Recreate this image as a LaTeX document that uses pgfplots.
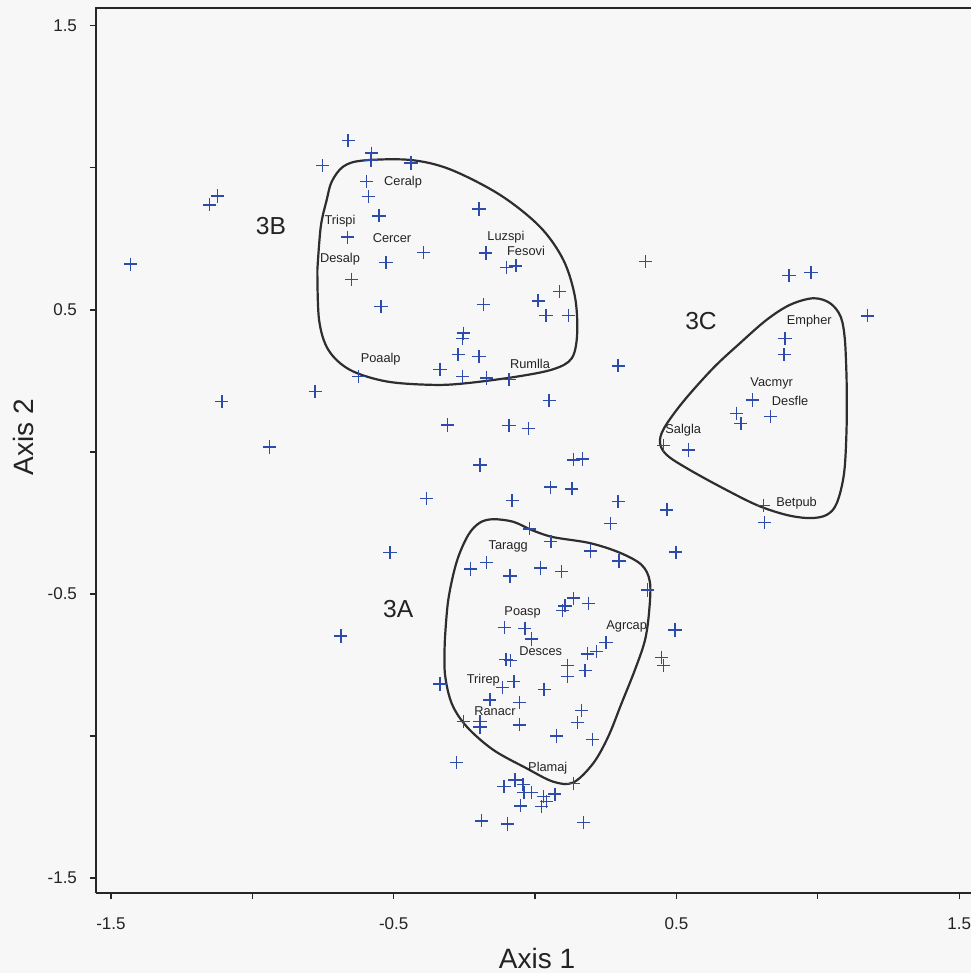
\documentclass[border=0pt]{standalone}
\usepackage{fontspec}
\setmainfont{Liberation Sans}
\usepackage{pgfplots}
\pgfplotsset{compat=1.18}
\definecolor{ptblue}{RGB}{45,75,170}
\definecolor{curve}{RGB}{45,45,50}
\definecolor{bg}{RGB}{247,247,247}
\definecolor{txt}{RGB}{35,35,35}
\begin{document}
\begin{tikzpicture}
\useasboundingbox (-48pt,-40pt) rectangle (437.5pt,446.5pt);
\fill[bg] (-48pt,-40pt) rectangle (437.5pt,446.5pt);
\begin{axis}[
  at={(0,0)}, anchor=south west,
  scale only axis, width=437.5pt, height=442.5pt,
  xmin=-1.553, xmax=1.542, ymin=-1.553, ymax=1.563,
  axis x line*=bottom, axis y line*=left,
  axis line style={line width=0.9pt, draw=black!85},
  clip=false,
  xtick={-1.5,-1,-0.5,0,0.5,1,1.5},
  ytick={-1.5,-1,-0.5,0,0.5,1,1.5},
  xticklabels={-1.5,,-0.5,,0.5,,1.5},
  yticklabels={-1.5,,-0.5,,0.5,,1.5},
  tick align=outside, major tick length=3pt,
  tick style={black!85, line width=0.6pt},
  /pgf/number format/assume math mode=true,
  x tick label style={font=\fontsize{8.5}{10}\selectfont, text=txt, yshift=-6pt},
  y tick label style={font=\fontsize{8.5}{10}\selectfont, text=txt, xshift=-3pt},
]
\addplot[only marks, mark=+, mark size=3.3pt, mark options={ptblue, line width=0.7pt}] table {
x y
-1.430 0.661
-1.152 0.870
-1.124 0.901
-1.108 0.177
-0.940 0.017
-0.778 0.212
-0.661 1.096
-0.751 1.008
-0.578 1.052
-0.580 1.028
-0.439 1.017
-0.596 0.952
-0.590 0.899
-0.198 0.855
-0.552 0.831
-0.663 0.756
-0.395 0.702
-0.527 0.667
-0.174 0.700
-0.100 0.650
-0.068 0.655
-0.649 0.608
0.086 0.564
0.011 0.532
-0.545 0.512
-0.183 0.518
0.039 0.480
0.118 0.480
-0.254 0.418
-0.256 0.400
-0.272 0.342
-0.198 0.336
-0.336 0.291
-0.256 0.265
-0.171 0.260
-0.092 0.254
-0.625 0.265
0.050 0.180
0.391 0.670
0.294 0.303
-0.309 0.095
-0.092 0.093
-0.024 0.083
-0.195 -0.046
0.135 -0.028
0.168 -0.025
-0.383 -0.163
0.055 -0.124
0.130 -0.130
-0.081 -0.172
0.294 -0.175
0.267 -0.253
0.466 -0.204
0.498 -0.353
-0.513 -0.355
-0.687 -0.648
0.454 0.022
0.542 0.007
0.898 0.621
0.976 0.631
1.176 0.479
0.884 0.400
0.881 0.342
0.770 0.183
0.713 0.136
0.728 0.099
0.833 0.124
0.807 -0.189
0.811 -0.249
-0.020 -0.271
0.056 -0.316
0.197 -0.349
0.297 -0.384
-0.171 -0.390
-0.228 -0.412
-0.089 -0.437
0.020 -0.409
0.094 -0.421
0.398 -0.486
0.495 -0.627
0.135 -0.515
0.106 -0.542
0.098 -0.559
0.188 -0.533
-0.109 -0.619
-0.036 -0.621
-0.012 -0.659
0.251 -0.671
0.218 -0.703
0.185 -0.711
-0.103 -0.730
-0.086 -0.735
0.114 -0.753
0.114 -0.791
0.177 -0.770
0.448 -0.723
0.454 -0.752
-0.336 -0.817
-0.075 -0.809
-0.115 -0.830
0.032 -0.836
-0.160 -0.873
-0.056 -0.883
0.165 -0.911
0.151 -0.953
-0.254 -0.950
-0.195 -0.950
-0.195 -0.969
-0.056 -0.961
0.076 -1.000
0.204 -1.012
-0.277 -1.094
0.135 -1.167
-0.110 -1.178
-0.071 -1.155
-0.042 -1.172
-0.039 -1.200
-0.012 -1.200
0.029 -1.214
0.070 -1.205
0.041 -1.231
0.023 -1.249
-0.051 -1.246
-0.098 -1.310
0.171 -1.305
-0.189 -1.299
};
% contour 3B
\addplot[smooth, tension=0.55, curve, line width=1.1pt] coordinates {
(-0.770,0.641) (-0.758,0.793) (-0.737,0.887) (-0.719,0.952) (-0.678,1.005) (-0.608,1.026)
(-0.442,1.028) (-0.301,0.995) (-0.124,0.905) (0.017,0.793) (0.100,0.676) (0.141,0.547)
(0.149,0.418) (0.130,0.330) (0.064,0.291) (-0.065,0.265) (-0.242,0.242) (-0.360,0.236)
(-0.525,0.248) (-0.655,0.289) (-0.731,0.359) (-0.764,0.465) (-0.770,0.641)
};
% contour 3C
\addplot[smooth, tension=0.55, curve, line width=1.1pt] coordinates {
(1.102,0.254) (1.102,0.089) (1.093,-0.075) (1.067,-0.181) (1.031,-0.222) (0.972,-0.233)
(0.890,-0.222) (0.784,-0.187) (0.654,-0.122) (0.536,-0.057) (0.466,-0.011) (0.442,0.031)
(0.456,0.083) (0.524,0.177) (0.630,0.295) (0.725,0.383) (0.819,0.465) (0.902,0.518)
(0.984,0.541) (1.043,0.524) (1.081,0.476) (1.096,0.394) (1.102,0.254)
};
% contour 3A
\addplot[smooth, tension=0.55, curve, line width=1.1pt] coordinates {
(-0.319,-0.662) (-0.307,-0.521) (-0.277,-0.386) (-0.236,-0.292) (-0.195,-0.249) (-0.148,-0.237)
(-0.077,-0.246) (-0.012,-0.275) (0.064,-0.300) (0.194,-0.321) (0.300,-0.355) (0.377,-0.398)
(0.406,-0.457) (0.404,-0.556) (0.389,-0.662) (0.353,-0.768) (0.306,-0.885) (0.259,-1.002)
(0.206,-1.096) (0.135,-1.164) (0.064,-1.161) (-0.030,-1.114) (-0.148,-1.049) (-0.242,-0.967)
(-0.295,-0.885) (-0.319,-0.779) (-0.319,-0.662)
};
\begin{scope}[every node/.style={font=\fontsize{6.4}{7}\selectfont, text=txt, inner sep=0pt}]
\node at (axis cs:-0.467,0.951) {Ceralp};
\node at (axis cs:-0.690,0.813) {Trispi};
\node at (axis cs:-0.506,0.754) {Cercer};
\node at (axis cs:-0.690,0.680) {Desalp};
\node at (axis cs:-0.103,0.757) {Luzspi};
\node at (axis cs:-0.032,0.708) {Fesovi};
\node at (axis cs:-0.546,0.328) {Poaalp};
\node at (axis cs:-0.018,0.310) {Rumlla};
\node at (axis cs:0.970,0.459) {Empher};
\node at (axis cs:0.837,0.240) {Vacmyr};
\node at (axis cs:0.902,0.180) {Desfle};
\node at (axis cs:0.524,0.078) {Salgla};
\node at (axis cs:0.925,-0.181) {Betpub};
\node at (axis cs:-0.095,-0.333) {Taragg};
\node at (axis cs:-0.044,-0.566) {Poasp};
\node at (axis cs:0.324,-0.615) {Agrcap};
\node at (axis cs:0.020,-0.700) {Desces};
\node at (axis cs:-0.183,-0.805) {Trirep};
\node at (axis cs:-0.142,-0.913) {Ranacr};
\node at (axis cs:0.045,-1.112) {Plamaj};
\end{scope}
\begin{scope}[every node/.style={font=\fontsize{12.3}{14}\selectfont, text=txt, inner sep=0pt}]
\node at (axis cs:-0.934,0.797) {3B};
\node at (axis cs:0.587,0.461) {3C};
\node at (axis cs:-0.484,-0.554) {3A};
\end{scope}
\end{axis}
\draw[line width=0.9pt, black!85] (-0.45pt,442.5pt) -- (437.5pt,442.5pt);
\node[font=\fontsize{14}{16}\selectfont, text=txt] at (220.5pt,-32.5pt) {Axis 1};
\node[font=\fontsize{14}{16}\selectfont, text=txt, rotate=90] at (-36.5pt,228pt) {Axis 2};
\end{tikzpicture}
\end{document}
